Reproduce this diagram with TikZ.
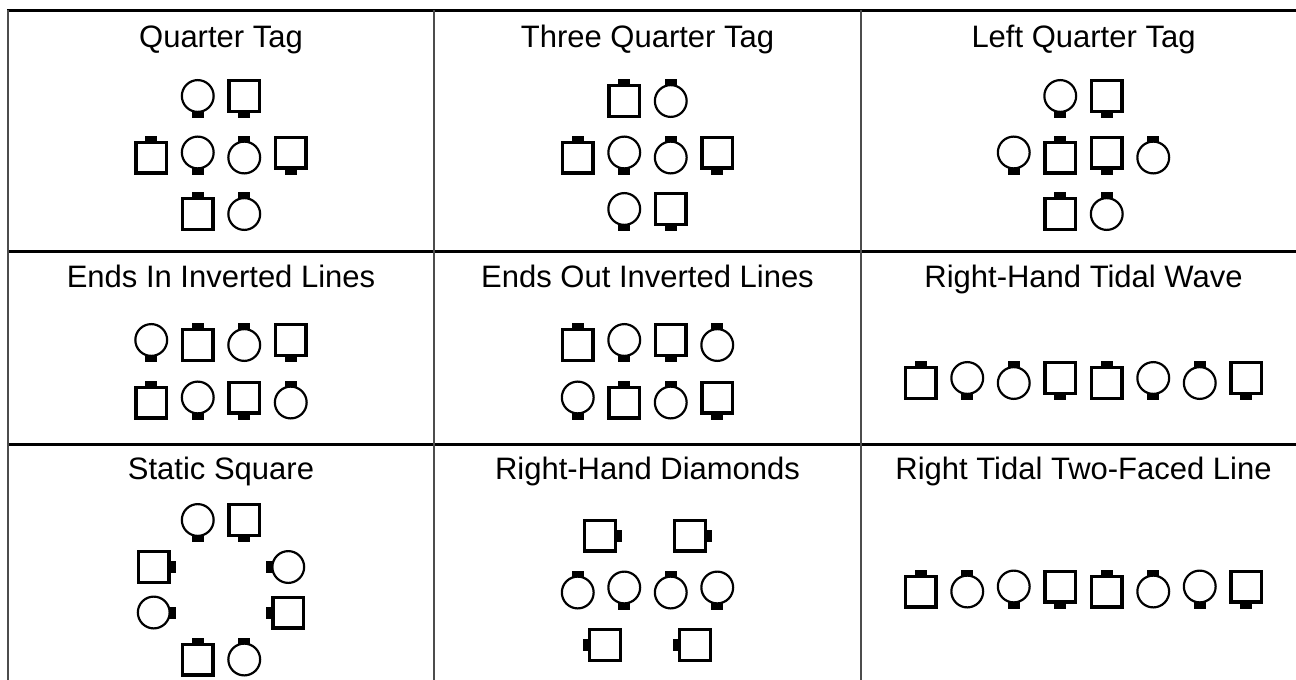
\documentclass[tikz,border=0pt]{standalone}
\usepackage{fontspec}
\setmainfont{Liberation Sans}
\usepackage{tikz}

\begin{document}
\begin{tikzpicture}[x=1pt,y=-1pt]
  \useasboundingbox (0,0) rectangle (1296,680);
  \colorlet{rule}{black!70}
  \def\ca{221}
  \def\cb{647.5}
  \def\cc{1083.5}
  \def\fN{0}
  \def\fS{180}
  \def\fE{-90}
  \def\fW{90}
  \tikzset{title/.style={anchor=base,inner sep=0pt,font=\fontsize{31}{37}\selectfont},
    sqline/.style={line width=3.4pt},
    ciline/.style={line width=2.2pt}}
  \newcommand{\boy}[3]{% x, y, facing
    \begin{scope}[shift={({#1},{#2})},rotate=#3]
      \fill (-6,-19.5) rectangle (6,-13);
      \draw[sqline] (-15.3,-12.8) rectangle (15.3,17.8);
    \end{scope}}
  \newcommand{\girl}[3]{% x, y, facing
    \begin{scope}[shift={({#1},{#2})},rotate=#3]
      \fill (-6,-19.5) rectangle (6,-13);
      \draw[ciline] (0,2.5) circle (15.9);
    \end{scope}}

  % table rules
  \foreach \y in {10,251,444}
    \draw[line width=3pt] (7,\y) -- (1296,\y);
  \foreach \x in {8,434,861}
    \draw[rule,line width=2pt] (\x,10) -- (\x,680);

  % titles
  \node[title] (qtag)   at (\ca,47)  {Quarter Tag};
  \node[title] (tqtag)  at (\cb,47)  {Three Quarter Tag};
  \node[title] (lqtag)  at (\cc,47)  {Left Quarter Tag};
  \node[title] (endsin) at (\ca,287) {Ends In Inverted Lines};
  \node[title] (endsout) at (\cb,287) {Ends Out Inverted Lines};
  \node[title] (rhwave) at (\cc,287) {Right-Hand Tidal Wave};
  \node[title] (static) at (\ca,479) {Static Square};
  \node[title] (rhdiam) at (\cb,479) {Right-Hand Diamonds};
  \node[title] (rtface) at (\cc,479) {Right Tidal Two-Faced Line};

  % quarter tag
  \girl{\ca-23.25}{98.5}{\fS}  \boy{\ca+23.25}{98.5}{\fS}
  \boy{\ca-69.75}{155}{\fN}    \girl{\ca-23.25}{155}{\fS}
  \girl{\ca+23.25}{155}{\fN}   \boy{\ca+69.75}{155}{\fS}
  \boy{\ca-23.25}{211.5}{\fN}  \girl{\ca+23.25}{211.5}{\fN}

  % three quarter tag
  \boy{\cb-23.25}{98.5}{\fN}   \girl{\cb+23.25}{98.5}{\fN}
  \boy{\cb-69.75}{155}{\fN}    \girl{\cb-23.25}{155}{\fS}
  \girl{\cb+23.25}{155}{\fN}   \boy{\cb+69.75}{155}{\fS}
  \girl{\cb-23.25}{211.5}{\fS} \boy{\cb+23.25}{211.5}{\fS}

  % left quarter tag
  \girl{\cc-23.25}{98.5}{\fS}  \boy{\cc+23.25}{98.5}{\fS}
  \girl{\cc-69.75}{155}{\fS}   \boy{\cc-23.25}{155}{\fN}
  \boy{\cc+23.25}{155}{\fS}    \girl{\cc+69.75}{155}{\fN}
  \boy{\cc-23.25}{211.5}{\fN}  \girl{\cc+23.25}{211.5}{\fN}

  % ends in inverted lines
  \girl{\ca-69.75}{342.5}{\fS} \boy{\ca-23.25}{342.5}{\fN}
  \girl{\ca+23.25}{342.5}{\fN} \boy{\ca+69.75}{342.5}{\fS}
  \boy{\ca-69.75}{400}{\fN}    \girl{\ca-23.25}{400}{\fS}
  \boy{\ca+23.25}{400}{\fS}    \girl{\ca+69.75}{400}{\fN}

  % ends out inverted lines
  \boy{\cb-69.75}{342.5}{\fN}  \girl{\cb-23.25}{342.5}{\fS}
  \boy{\cb+23.25}{342.5}{\fS}  \girl{\cb+69.75}{342.5}{\fN}
  \girl{\cb-69.75}{400}{\fS}   \boy{\cb-23.25}{400}{\fN}
  \girl{\cb+23.25}{400}{\fN}   \boy{\cb+69.75}{400}{\fS}

  % right-hand tidal wave
  \foreach \k in {0,4} {
    \boy{\cc+(\k-3.5)*46.5}{380.5}{\fN}
    \girl{\cc+(\k-2.5)*46.5}{380.5}{\fS}
    \girl{\cc+(\k-1.5)*46.5}{380.5}{\fN}
    \boy{\cc+(\k-0.5)*46.5}{380.5}{\fS}}

  % static square
  \girl{\ca-23.25}{522.5}{\fS} \boy{\ca+23.25}{522.5}{\fS}
  \boy{\ca-64.75}{567}{\fE}    \girl{\ca+64.75}{567}{\fW}
  \girl{\ca-64.75}{612.5}{\fE} \boy{\ca+64.75}{612.5}{\fW}
  \boy{\ca-23.25}{657}{\fN}    \girl{\ca+23.25}{657}{\fN}

  % right-hand diamonds
  \boy{\cb-45}{535.5}{\fE}     \boy{\cb+45}{535.5}{\fE}
  \girl{\cb-69.75}{590}{\fN}   \girl{\cb-23.25}{590}{\fS}
  \girl{\cb+23.25}{590}{\fN}   \girl{\cb+69.75}{590}{\fS}
  \boy{\cb-45}{645}{\fW}       \boy{\cb+45}{645}{\fW}

  % right tidal two-faced line
  \foreach \k in {0,4} {
    \boy{\cc+(\k-3.5)*46.5}{589}{\fN}
    \girl{\cc+(\k-2.5)*46.5}{589}{\fN}
    \girl{\cc+(\k-1.5)*46.5}{589}{\fS}
    \boy{\cc+(\k-0.5)*46.5}{589}{\fS}}
\end{tikzpicture}
\end{document}
